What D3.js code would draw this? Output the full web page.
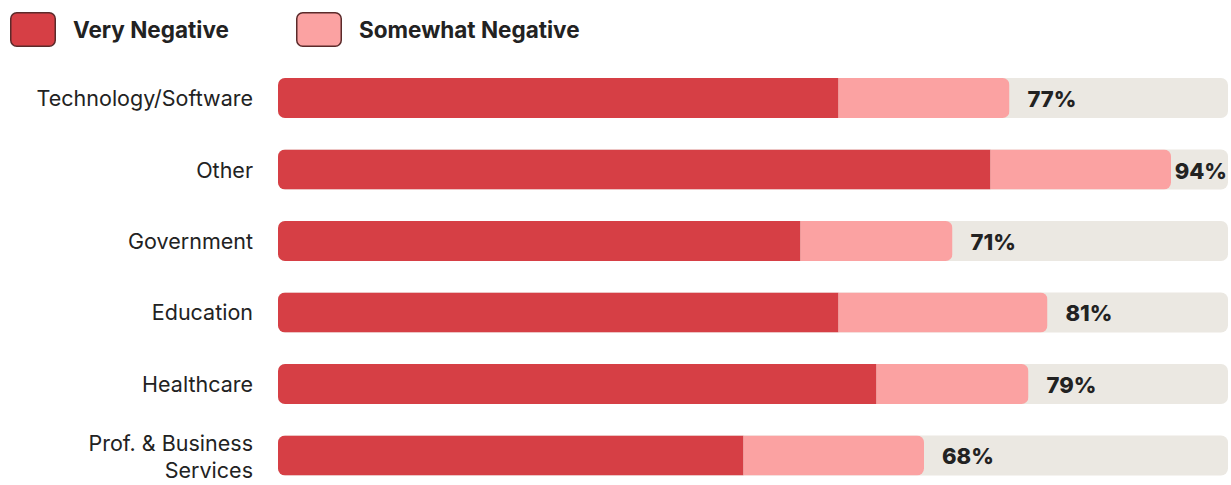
<!DOCTYPE html>
<html>
<head>
<meta charset="utf-8">
<script src="https://cdn.jsdelivr.net/npm/d3@7"></script>
<style>
  html, body { margin: 0; padding: 0; background: #ffffff; }
  svg { display: block; }
</style>
</head>
<body>
<svg id="chart" width="1231" height="485"></svg>
<script>
// Sector breakdown of negative sentiment (percent of respondents)
const categories = [
  "Technology/Software",
  "Other",
  "Government",
  "Education",
  "Healthcare",
  "Prof. & Business Services"
];
const veryNegative     = [59, 75, 55, 59, 63, 49];
const somewhatNegative = [18, 19, 16, 22, 16, 19];
const totalLabels      = ["77%", "94%", "71%", "81%", "79%", "68%"];
const seriesNames      = ["Very Negative", "Somewhat Negative"];

const colors = {
  very: "#d63f45",
  somewhat: "#fba2a2",
  track: "#ebe8e2",
  text: "#222222",
  swatchStroke: "#5b2a2a"
};

const W = 1231;
const svg = d3.select("#chart");

const x = d3.scaleLinear().domain([0, 100]).range([278, 1228]);
const y = d3.scaleBand().domain(categories).range([78, 475.5]).paddingInner(0.44).paddingOuter(0);
const bh = y.bandwidth();
const radius = 7;
const fontFamily = "Inter, 'Noto Sans', sans-serif";

// Legend
const legend = svg.append("g").attr("class", "legend");
const legendItems = [
  { name: seriesNames[0], fill: colors.very, x: 10 },
  { name: seriesNames[1], fill: colors.somewhat, x: 296 }
];
legendItems.forEach(d => {
  legend.append("rect")
    .attr("x", d.x + 0.75).attr("y", 12.75)
    .attr("width", 44.5).attr("height", 33.5)
    .attr("rx", 6)
    .attr("fill", d.fill)
    .attr("stroke", colors.swatchStroke)
    .attr("stroke-width", 1.5);
  legend.append("text")
    .attr("x", d.x + 63).attr("y", 29)
    .attr("dominant-baseline", "central")
    .attr("font-family", fontFamily)
    .attr("font-weight", 700)
    .attr("font-size", 22.5)
    .attr("fill", colors.text)
    .text(d.name);
});

const rows = categories.map((c, i) => ({
  category: c,
  very: veryNegative[i],
  somewhat: somewhatNegative[i],
  total: veryNegative[i] + somewhatNegative[i],
  label: totalLabels[i],
  idx: i
}));

const defs = svg.append("defs");
rows.forEach(d => {
  defs.append("clipPath").attr("id", "clip-" + d.idx)
    .append("rect")
    .attr("x", x(0)).attr("y", y(d.category))
    .attr("width", x(d.total) - x(0)).attr("height", bh)
    .attr("rx", radius);
});

const row = svg.append("g").selectAll("g.row")
  .data(rows).join("g").attr("class", "row");

// Background track (full scale)
row.append("rect")
  .attr("x", x(0)).attr("y", d => y(d.category))
  .attr("width", x(100) - x(0)).attr("height", bh)
  .attr("rx", radius)
  .attr("fill", colors.track);

// Stacked segments clipped to a rounded total bar
const stack = row.append("g").attr("clip-path", d => `url(#clip-${d.idx})`);
stack.append("rect")
  .attr("x", x(0)).attr("y", d => y(d.category))
  .attr("width", d => x(d.very) - x(0)).attr("height", bh)
  .attr("fill", colors.very);
stack.append("rect")
  .attr("x", d => x(d.very)).attr("y", d => y(d.category))
  .attr("width", d => x(d.very + d.somewhat) - x(d.very)).attr("height", bh)
  .attr("fill", colors.somewhat);

// Total value labels, kept inside the right edge
row.append("text")
  .attr("y", d => y(d.category) + bh / 2 + 1)
  .attr("dominant-baseline", "central")
  .attr("font-family", fontFamily)
  .attr("font-weight", 800)
  .attr("font-size", 22)
  .attr("fill", colors.text)
  .text(d => d.label)
  .each(function(d) {
    const w = this.getComputedTextLength();
    const px = Math.min(x(d.total) + 18, W - 4 - w);
    d3.select(this).attr("x", px);
  });

// Category labels, wrapped where needed
const labelLines = {
  "Prof. & Business Services": ["Prof. & Business", "Services"]
};
row.append("text")
  .attr("text-anchor", "end")
  .attr("font-family", fontFamily)
  .attr("font-size", 21.5)
  .attr("fill", colors.text)
  .each(function(d) {
    const lines = labelLines[d.category] || [d.category];
    const cy = y(d.category) + bh / 2 + (lines.length > 1 ? 1 : 0);
    const lh = 27;
    const t = d3.select(this);
    lines.forEach((ln, k) => {
      t.append("tspan")
        .attr("x", 253)
        .attr("y", cy + (k - (lines.length - 1) / 2) * lh)
        .attr("dominant-baseline", "central")
        .text(ln);
    });
  });
</script>
</body>
</html>
